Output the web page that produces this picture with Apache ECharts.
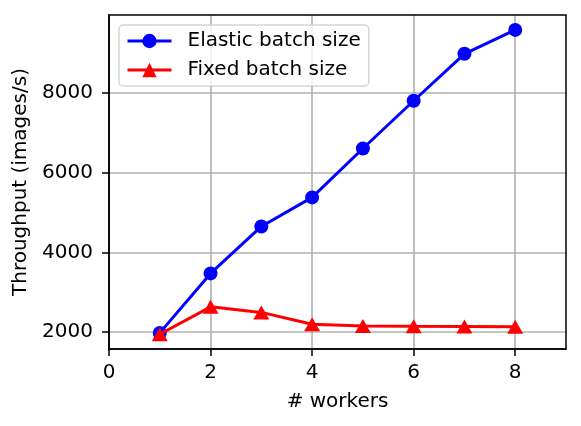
<!DOCTYPE html>
<html><head><meta charset="utf-8">
<script src="https://cdn.jsdelivr.net/npm/echarts@6/dist/echarts.min.js"></script>
<style>html,body{margin:0;padding:0;background:#fff}#c{width:581px;height:426px}</style>
</head><body><div id="c"></div>
<script>
const workers = [1, 2, 3, 4, 5, 6, 7, 8];
const elastic = [1975, 3470, 4650, 5380, 6610, 7810, 8990, 9590];
const fixed = [1940, 2630, 2490, 2190, 2150, 2140, 2135, 2130];
const xTicks = [0, 2, 4, 6, 8];
const yTicks = [2000, 4000, 6000, 8000];
const xRange = [0, 9];
const yRange = [1570, 9965];

const FONT = 'DejaVu Sans';
const chart = echarts.init(document.getElementById('c'), null, {renderer: 'canvas'});
chart.setOption({
  animation: false,
  backgroundColor: '#fff',
  textStyle: {fontFamily: FONT},
  grid: {left: 109, top: 15, right: 15, bottom: 77, show: true, borderColor: '#000', borderWidth: 1.5, backgroundColor: 'transparent', z: 10},
  legend: {
    orient: 'vertical', left: 119, top: 25,
    padding: [6, 8, 6, 7],
    itemWidth: 44, itemHeight: 18, itemGap: 9,
    backgroundColor: 'rgba(255,255,255,0.8)',
    borderColor: 'rgba(204,204,204,0.8)', borderWidth: 1.5, borderRadius: 4,
    lineStyle: {width: 3},
    textStyle: {fontSize: 20, color: '#000', fontFamily: FONT, lineHeight: 20, padding: [0, 0, 0, 11]},
    data: ['Elastic batch size', 'Fixed batch size']
  },
  xAxis: {
    type: 'value', min: xRange[0], max: xRange[1],
    name: '# workers', nameLocation: 'middle', nameGap: 43,
    nameTextStyle: {fontSize: 20, color: '#000', fontFamily: FONT},
    axisLine: {show: true, onZero: false, lineStyle: {color: '#000', width: 1.5}},
    axisTick: {show: true, length: 7, lineStyle: {color: '#000', width: 1.5}, customValues: xTicks},
    axisLabel: {fontSize: 20, color: '#000', margin: 14, fontFamily: FONT, customValues: xTicks, formatter: v => String(v)},
    splitLine: {show: true, lineStyle: {color: '#b0b0b0', width: 1.6}}
  },
  yAxis: {
    type: 'value', min: yRange[0], max: yRange[1],
    name: 'Throughput (images/s)', nameLocation: 'middle', nameGap: 68,
    nameTextStyle: {fontSize: 20, color: '#000', fontFamily: FONT},
    axisLine: {show: true, onZero: false, lineStyle: {color: '#000', width: 1.5}},
    axisTick: {show: true, length: 7, lineStyle: {color: '#000', width: 1.5}, customValues: yTicks},
    axisLabel: {fontSize: 20, color: '#000', margin: 16, fontFamily: FONT, customValues: yTicks, formatter: v => String(v)},
    splitLine: {show: true, lineStyle: {color: '#b0b0b0', width: 1.6}}
  },
  series: [
    {
      name: 'Elastic batch size', type: 'line', symbol: 'circle', symbolSize: 14,
      data: workers.map((w, i) => [w, elastic[i]]),
      lineStyle: {color: '#0000ff', width: 3}, itemStyle: {color: '#0000ff'}, z: 3
    },
    {
      name: 'Fixed batch size', type: 'line', symbol: 'triangle', symbolSize: [16, 14],
      data: workers.map((w, i) => [w, fixed[i]]),
      lineStyle: {color: '#ff0000', width: 3}, itemStyle: {color: '#ff0000'}, z: 4
    }
  ]
});
</script></body></html>
